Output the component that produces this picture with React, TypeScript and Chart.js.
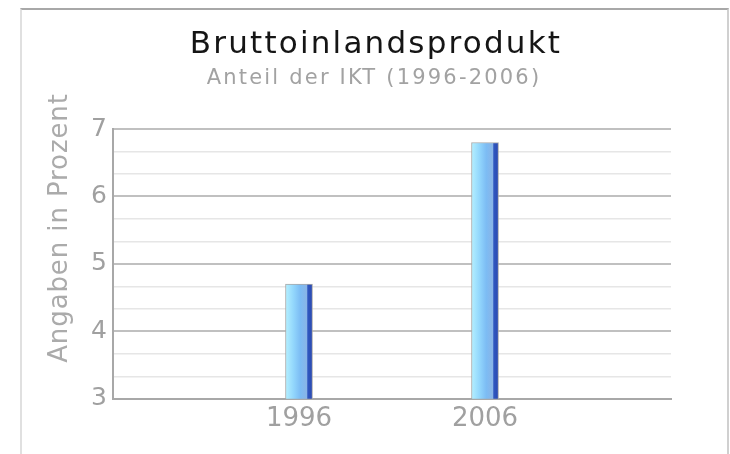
import React, { useEffect, useRef } from "react";
import { Chart, registerables } from "chart.js";

Chart.register(...registerables);

const categories = ["", "1996", "2006", ""];
const values = [null, 4.7, 6.8, null];
const yMin = 3;
const yMax = 7;
const yStep = 1 / 3;
const titleText = "Bruttoinlandsprodukt";
const subtitleText = "Anteil der IKT (1996-2006)";
const yTitle = "Angaben in Prozent";

const textPlugin = {
  id: "headerText",
  afterDraw(chart: any) {
    const ctx = chart.ctx as CanvasRenderingContext2D;
    ctx.save();
    ctx.textAlign = "center";
    ctx.textBaseline = "alphabetic";
    // main title
    ctx.fillStyle = "#151515";
    ctx.font = "31px 'DejaVu Sans'";
    (ctx as any).letterSpacing = "2.2px";
    ctx.fillText(titleText, 376, 53);
    // subtitle
    ctx.fillStyle = "#a2a2a2";
    ctx.font = "21px 'DejaVu Sans'";
    (ctx as any).letterSpacing = "2.2px";
    ctx.fillText(subtitleText, 374, 84);
    // y axis title
    ctx.fillStyle = "#ababab";
    ctx.font = "26px 'DejaVu Sans'";
    (ctx as any).letterSpacing = "0.9px";
    ctx.translate(67, 228);
    ctx.rotate(-Math.PI / 2);
    ctx.fillText(yTitle, 0, 0);
    ctx.restore();
  },
};

export default function App() {
  const ref = useRef<HTMLCanvasElement | null>(null);
  useEffect(() => {
    if (!ref.current) return;
    const chart = new Chart(ref.current, {
      type: "bar",
      data: {
        labels: categories,
        datasets: [
          {
            data: values as any,
            barThickness: 27,
            borderWidth: 1,
            borderColor: "#a8a8a8",
            borderSkipped: "bottom",
            backgroundColor: (ctx: any) => {
              const c = ctx.chart;
              const xs = c.scales && c.scales.x;
              if (!xs || ctx.dataIndex === undefined) return "#7ab8f0";
              const cx = xs.getPixelForValue(ctx.dataIndex);
              if (!isFinite(cx)) return "#7ab8f0";
              const l = cx - 13.5;
              const r = cx + 13.5;
              const g = c.ctx.createLinearGradient(l, 0, r, 0);
              g.addColorStop(0, "#b4f0ff");
              g.addColorStop(0.3, "#92d6fc");
              g.addColorStop(0.55, "#7cbcf4");
              g.addColorStop(0.8, "#8ab4e6");
              g.addColorStop(0.82, "#3058c0");
              g.addColorStop(1, "#2a48b0");
              return g;
            },
          },
        ],
      },
      options: {
        responsive: false,
        animation: false,
        devicePixelRatio: 1,
        layout: { padding: { left: 49, right: 59, top: 129, bottom: 14 } },
        plugins: {
          legend: { display: false },
          tooltip: { enabled: false },
          title: { display: false },
        },
        scales: {
          x: {
            offset: false,
            grid: { display: false, drawTicks: false },
            border: { color: "#a8a8a8", width: 2 },
            ticks: {
              color: "#a0a0a0",
              padding: 5,
              autoSkip: false,
              maxRotation: 0,
              font: { family: "DejaVu Sans", size: 26 },
            },
          },
          y: {
            min: yMin,
            max: yMax,
            afterFit: (s: any) => {
              s.width = 64;
            },
            border: { color: "#a8a8a8", width: 2 },
            grid: {
              drawTicks: false,
              color: (ctx: any) => {
                const v = ctx.tick ? ctx.tick.value : 0;
                return Math.abs(v - Math.round(v)) < 1e-6 ? "#c0c0c0" : "#e6e6e6";
              },
              lineWidth: (ctx: any) => {
                const v = ctx.tick ? ctx.tick.value : 0;
                return Math.abs(v - Math.round(v)) < 1e-6 ? 2 : 1.5;
              },
            },
            ticks: {
              stepSize: yStep,
              padding: 6,
              color: "#a0a0a0",
              autoSkip: false,
              font: { family: "DejaVu Sans", size: 25 },
              callback: (v: any) => {
                const n = Number(v);
                return Math.abs(n - Math.round(n)) < 1e-6 ? String(Math.round(n)) : "";
              },
            },
          },
        },
      },
      plugins: [textPlugin],
    });
    return () => chart.destroy();
  }, []);
  return (
    <div style={{ position: "absolute", left: 0, top: 0, width: 730, height: 454, overflow: "hidden", background: "#fff" }}>
      <div
        style={{
          position: "absolute",
          left: 20,
          top: 8,
          width: 705,
          height: 470,
          borderTop: "2px solid #a8a8a8",
          borderLeft: "2px solid #e0e0e0",
          borderRight: "2px solid #d0d0d0",
        }}
      />
      <canvas ref={ref} width={730} height={454} style={{ position: "absolute", left: 0, top: 0 }} />
    </div>
  );
}
